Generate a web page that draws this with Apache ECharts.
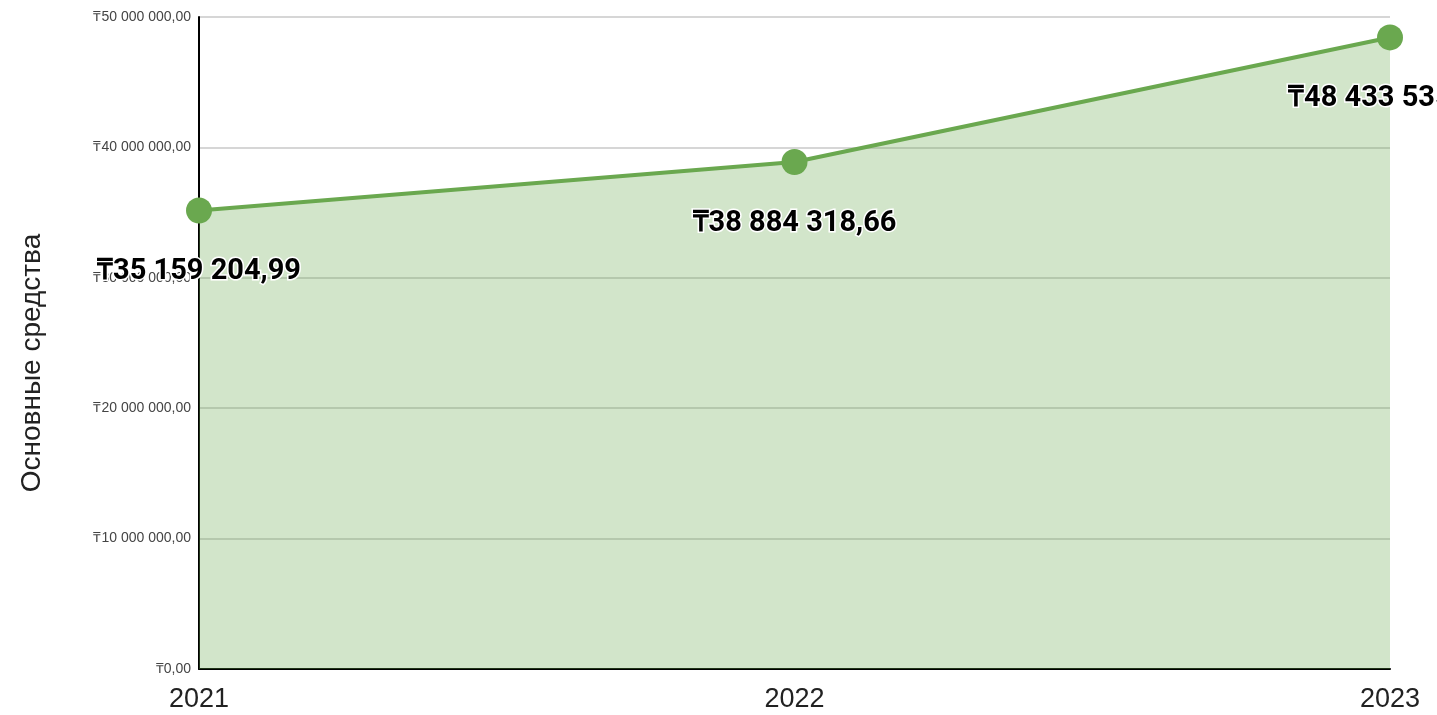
<!DOCTYPE html>
<html>
<head>
<meta charset="utf-8">
<script src="https://cdn.jsdelivr.net/npm/echarts@6/dist/echarts.min.js"></script>
<style>
html, body { margin: 0; padding: 0; background: #fff; }
#assetsChart { width: 1437px; height: 715px; }
</style>
</head>
<body>
<div id="assetsChart"></div>
<script>
// данные графика
var years = ['2021', '2022', '2023'];
var assetValues = [35159204.99, 38884318.66, 48433535.00];
var axisName = 'Основные средства';

function formatTenge(v) {
    var parts = Number(v).toFixed(2).split('.');
    var intPart = parts[0].replace(/\B(?=(\d{3})+(?!\d))/g, ' ');
    return '₸' + intPart + ',' + parts[1];
}

var assetsChart = echarts.init(document.getElementById('assetsChart'));

var assetsOption = {
    animation: false,
    grid: {
        left: 199,
        right: 47,
        top: 17,
        bottom: 46
    },
    xAxis: {
        type: 'category',
        data: years,
        boundaryGap: false,
        axisLine: { show: true, lineStyle: { color: '#000', width: 2 } },
        axisTick: { show: false },
        axisLabel: {
            color: '#222',
            fontSize: 27,
            fontFamily: 'Liberation Sans, Arial',
            margin: 17
        }
    },
    yAxis: {
        type: 'value',
        min: 0,
        max: 50000000,
        interval: 10000000,
        name: axisName,
        nameLocation: 'middle',
        nameRotate: 90,
        nameGap: 153,
        nameTextStyle: {
            color: '#222',
            fontSize: 28,
            fontFamily: 'Liberation Sans, Arial',
            padding: [0, 40, 0, 0]
        },
        axisLine: { show: true, lineStyle: { color: '#000', width: 2 } },
        axisTick: { show: false },
        axisLabel: {
            color: '#444',
            fontSize: 14,
            fontFamily: 'Liberation Sans, Arial',
            margin: 8,
            formatter: function (v) { return formatTenge(v); }
        },
        splitLine: { lineStyle: { color: '#c8c8c8', width: 1.5 } }
    },
    series: [{
        name: axisName,
        type: 'line',
        data: assetValues,
        symbol: 'circle',
        symbolSize: 26,
        clip: true,
        lineStyle: { color: '#6aa84f', width: 4 },
        itemStyle: { color: '#6aa84f' },
        areaStyle: { color: '#6aa84f', opacity: 0.3 },
        label: {
            show: true,
            position: 'bottom',
            distance: 34,
            color: '#000',
            fontSize: 29,
            fontWeight: 'bold',
            fontFamily: 'Roboto',
            textBorderColor: '#fff',
            textBorderWidth: 3,
            formatter: function (p) { return formatTenge(p.value); }
        },
        z: 3
    }]
};

assetsChart.setOption(assetsOption);
</script>
</body>
</html>
